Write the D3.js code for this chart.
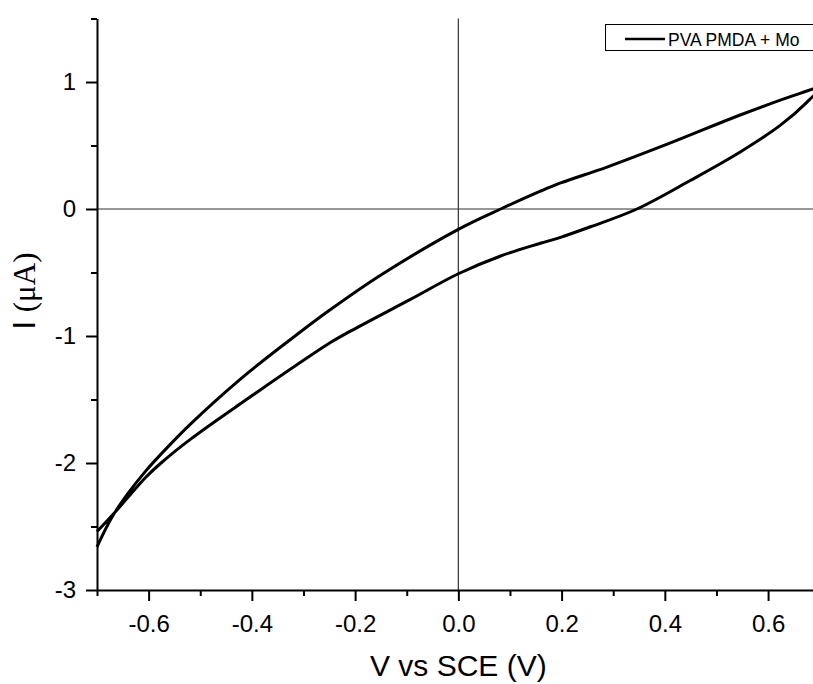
<!DOCTYPE html>
<html lang="en">

<head>
    <meta charset="UTF-8">
    <title>PVA PMDA + Mo cyclic voltammogram</title>
    <script src="https://d3js.org/d3.v7.min.js"></script>
    <style>
        body,
        html {
            margin: 0;
            padding: 0;
            overflow: hidden;
            background: #fff;
        }

        text {
            font-family: "Liberation Sans", Arial, sans-serif;
            fill: #000;
        }

        .tick text {
            font-size: 24px;
        }

        .axis path,
        .axis line {
            stroke: #000;
            stroke-width: 2px;
        }
    </style>
</head>

<body>
    <svg width="813" height="684" id="chart"></svg>
    <script>
        // lower branch, left vertex -> right vertex
        const lowerV = [-0.70, -0.67, -0.64, -0.605, -0.576, -0.518, -0.421, -0.247, -0.208, -0.092, 0.0, 0.082, 0.159, 0.198, 0.256, 0.346, 0.450, 0.546, 0.624, 0.675, 0.70];
        const lowerI = [-2.54, -2.41, -2.27, -2.11, -2.00, -1.81, -1.53, -1.05, -0.96, -0.71, -0.51, -0.37, -0.27, -0.223, -0.14, 0.0, 0.226, 0.449, 0.66, 0.84, 0.955];
        // upper branch, right vertex -> left vertex
        const upperV = [0.70, 0.662, 0.546, 0.417, 0.288, 0.198, 0.159, 0.082, 0.0, -0.150, -0.247, -0.305, -0.421, -0.518, -0.576, -0.605, -0.64, -0.67, -0.70];
        const upperI = [0.955, 0.91, 0.74, 0.53, 0.33, 0.205, 0.14, 0.0, -0.16, -0.52, -0.79, -0.965, -1.335, -1.69, -1.93, -2.06, -2.24, -2.42, -2.66];

        const xMajor = [-0.6, -0.4, -0.2, 0.0, 0.2, 0.4, 0.6];
        const xMinor = [-0.7, -0.5, -0.3, -0.1, 0.1, 0.3, 0.5, 0.7];
        const yMajor = [-3, -2, -1, 0, 1];
        const yMinor = [-2.5, -1.5, -0.5, 0.5, 1.5];
        const seriesName = "PVA PMDA + Mo";

        const svg = d3.select("#chart");

        const x = d3.scaleLinear().domain([-0.7, 0.7]).range([97, 819.7]);
        const y = d3.scaleLinear().domain([-3, 1.5]).range([590, 18.5]);

        const loop = lowerV.map((v, i) => [v, lowerI[i]])
            .concat(upperV.map((v, i) => [v, upperI[i]]).slice(1));

        // zero lines
        svg.append("line")
            .attr("x1", x(-0.7)).attr("x2", x(0.7))
            .attr("y1", y(0)).attr("y2", y(0))
            .attr("stroke", "#333").attr("stroke-width", 1.2);
        svg.append("line")
            .attr("x1", x(0)).attr("x2", x(0))
            .attr("y1", y(1.5)).attr("y2", y(-3))
            .attr("stroke", "#333").attr("stroke-width", 1.2);

        // curve
        const line = d3.line()
            .x(d => x(d[0]))
            .y(d => y(d[1]))
            .curve(d3.curveCatmullRom.alpha(0.5));

        svg.append("path")
            .datum(loop)
            .attr("d", line)
            .attr("fill", "none")
            .attr("stroke", "#000")
            .attr("stroke-width", 3)
            .attr("stroke-linejoin", "round");

        // x axis
        svg.append("g")
            .attr("class", "axis")
            .attr("transform", `translate(0,${y(-3)})`)
            .call(d3.axisBottom(x).tickValues(xMinor).tickSize(6).tickSizeOuter(0).tickFormat(""))
            .select(".domain").remove();
        const gx = svg.append("g")
            .attr("class", "axis")
            .attr("transform", `translate(0,${y(-3)})`)
            .call(d3.axisBottom(x).tickValues(xMajor).tickSize(11).tickSizeOuter(0).tickFormat(d => d.toFixed(1)));
        gx.selectAll(".tick text").attr("y", 25).attr("dy", "0.71em");

        // y axis
        svg.append("g")
            .attr("class", "axis")
            .attr("transform", `translate(${x(-0.7)},0)`)
            .call(d3.axisLeft(y).tickValues(yMinor).tickSize(6).tickSizeOuter(0).tickFormat(""))
            .select(".domain").remove();
        const gy = svg.append("g")
            .attr("class", "axis")
            .attr("transform", `translate(${x(-0.7)},0)`)
            .call(d3.axisLeft(y).tickValues(yMajor).tickSize(11).tickSizeOuter(0).tickFormat(d => String(d)));
        gy.selectAll(".tick text").attr("x", -21);

        // axis titles
        svg.append("text")
            .attr("x", x(0))
            .attr("y", 676)
            .attr("text-anchor", "middle")
            .style("font-size", "30px")
            .text("V vs SCE (V)");

        const yTitle = svg.append("text")
            .attr("transform", "translate(35,291) rotate(-90)")
            .attr("text-anchor", "middle")
            .style("font-size", "31px");
        yTitle.append("tspan").text("I ");
        yTitle.append("tspan")
            .style("font-family", "'Liberation Serif', 'Times New Roman', serif")
            .text("(\u03bcA)");

        // legend
        const lg = svg.append("g");
        lg.append("rect")
            .attr("x", 605.5).attr("y", 24.5)
            .attr("width", 230).attr("height", 26)
            .attr("fill", "#fff").attr("stroke", "#000").attr("stroke-width", 1);
        lg.append("line")
            .attr("x1", 625).attr("x2", 665)
            .attr("y1", 39).attr("y2", 39)
            .attr("stroke", "#000").attr("stroke-width", 2.4);
        lg.append("text")
            .attr("x", 668)
            .attr("y", 46)
            .style("font-size", "17.5px")
            .text(seriesName);
    </script>
</body>

</html>
